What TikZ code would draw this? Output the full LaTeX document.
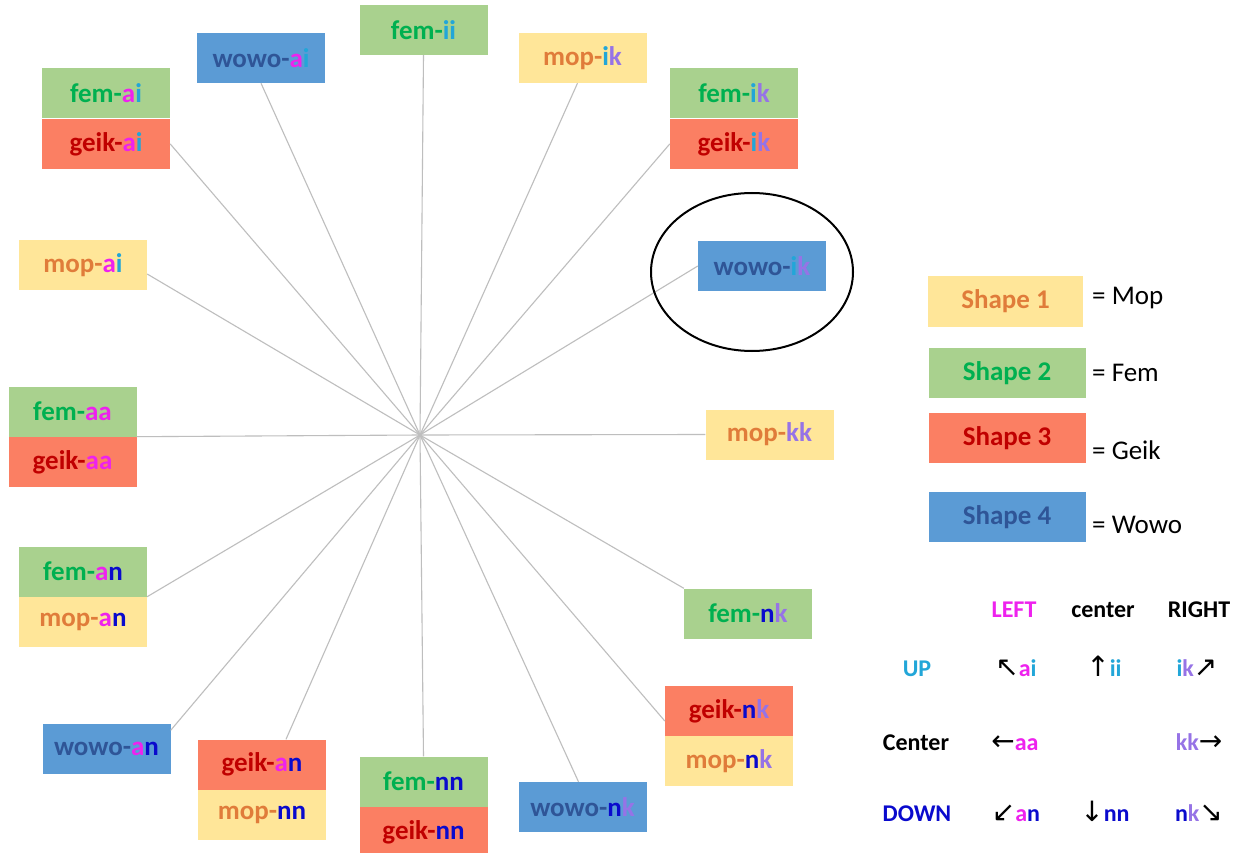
\documentclass[tikz,border=0pt]{standalone}
\usepackage{fontspec}
\setmainfont{Carlito}
\newfontfamily\arrowfont{DejaVu Sans}

% box fills and text colours
\definecolor{mopfill}{HTML}{FFE699}
\definecolor{moptext}{HTML}{E07C3A}
\definecolor{femfill}{HTML}{A9D18E}
\definecolor{femtext}{HTML}{00B050}
\definecolor{geikfill}{HTML}{FB7F63}
\definecolor{geiktext}{HTML}{C00000}
\definecolor{wowofill}{HTML}{5B9BD5}
\definecolor{wowotext}{HTML}{2F5597}
% direction letters
\definecolor{colA}{HTML}{EE22EE}
\definecolor{colI}{HTML}{22A6D8}
\definecolor{colK}{HTML}{9673E6}
\definecolor{colN}{HTML}{0A0ACD}
\definecolor{spokegray}{HTML}{BEBEBE}

\newcommand\ltA{\textcolor{colA}{a}}
\newcommand\ltI{\textcolor{colI}{i}}
\newcommand\ltK{\textcolor{colK}{k}}
\newcommand\ltN{\textcolor{colN}{n}}
\newcommand\arw[1]{{\arrowfont\mdseries\fontsize{28}{28}\selectfont #1}}

\tikzset{
  tag/.style={rectangle, inner sep=0pt, minimum width=128pt, minimum height=50pt,
              font=\bfseries\fontsize{27}{32}\selectfont},
  mop/.style={tag, fill=mopfill, text=moptext},
  fem/.style={tag, fill=femfill, text=femtext},
  geik/.style={tag, fill=geikfill, text=geiktext},
  wowo/.style={tag, fill=wowofill, text=wowotext},
  spoke/.style={draw=spokegray, line width=1.1pt},
  keytext/.style={anchor=west, inner sep=0pt, font=\fontsize{27}{32}\selectfont},
  cell/.style={inner sep=0pt, anchor=base, font=\bfseries\fontsize{24}{28}\selectfont},
}

\begin{document}
\begin{tikzpicture}[x=1pt, y=-1pt]
\useasboundingbox (0,0) rectangle (1243,853);
\fill[white] (0,0) rectangle (1243,853);

\coordinate (hub) at (420,435);

% labelled boxes round the hub
\node[fem]  (femii)  at (423.5,30)  {fem-\ltI\ltI};
\node[wowo] (wowoai) at (261,58)    {wowo-\ltA\ltI};
\node[fem]  (femai)  at (106,93.5)  {fem-\ltA\ltI};
\node[geik, anchor=north] (geikai) at (femai.south) {geik-\ltA\ltI};
\node[mop]  (mopik)  at (582.5,58)  {mop-\ltI\ltK};
\node[fem]  (femik)  at (734,93.5)  {fem-\ltI\ltK};
\node[geik, anchor=north] (geikik) at (femik.south) {geik-\ltI\ltK};
\node[wowo] (wowoik) at (762,266)   {wowo-\ltI\ltK};
\node[mop]  (mopai)  at (83,265)    {mop-\ltA\ltI};
\node[fem]  (femaa)  at (72.5,411.5) {fem-\ltA\ltA};
\node[geik, anchor=north] (geikaa) at (femaa.south) {geik-\ltA\ltA};
\node[mop]  (mopkk)  at (769.5,434.5) {mop-\ltK\ltK};
\node[fem]  (feman)  at (83,571.5)  {fem-\ltA\ltN};
\node[mop, anchor=north] (mopan) at (feman.south) {mop-\ltA\ltN};
\node[wowo] (wowoan) at (106.5,748.5) {wowo-\ltA\ltN};
\node[geik] (geikan) at (262,764.5) {geik-\ltA\ltN};
\node[mop, anchor=north] (mopnn) at (geikan.south) {mop-\ltN\ltN};
\node[fem]  (femnn)  at (423.5,781.5) {fem-\ltN\ltN};
\node[geik, anchor=north] (geiknn) at (femnn.south) {geik-\ltN\ltN};
\node[wowo] (wowonk) at (582.5,807) {wowo-\ltN\ltK};
\node[geik] (geiknk) at (729,711)   {geik-\ltN\ltK};
\node[mop, anchor=north] (mopnk) at (geiknk.south) {mop-\ltN\ltK};
\node[fem]  (femnk)  at (748,613.5) {fem-\ltN\ltK};

% spokes from the hub
\draw[spoke] (hub) -- (femii.south);
\draw[spoke] (hub) -- (wowoai.south);
\draw[spoke] (hub) -- (geikai.east);
\draw[spoke] (hub) -- ([xshift=-5pt]mopik.south);
\draw[spoke] (hub) -- (geikik.west);
\draw[spoke] (hub) -- (wowoik.west);
\draw[spoke] (hub) -- ([yshift=-9pt]mopai.east);
\draw[spoke] (hub) -- (femaa.south east);
\draw[spoke] (hub) -- (mopkk.west);
\draw[spoke] (hub) -- (feman.south east);
\draw[spoke] (hub) -- ([yshift=-7pt]wowoan.north east);
\draw[spoke] (hub) -- ([xshift=24pt]geikan.north);
\draw[spoke] (hub) -- (femnn.north);
\draw[spoke] (hub) -- ([xshift=-4pt]wowonk.north);
\draw[spoke] (hub) -- ([yshift=-10pt]geiknk.west);
\draw[spoke] (hub) -- (femnk.north west);

% highlight ring
\draw[black, line width=2pt] (752,272) ellipse [x radius=101, y radius=79];

% key
\node[mop,  minimum width=155pt] (key1) at (1005.5,301.5) {Shape 1};
\node[fem,  minimum width=157pt] (key2) at (1007,373)   {Shape 2};
\node[geik, minimum width=157pt] (key3) at (1007,438)   {Shape 3};
\node[wowo, minimum width=157pt] (key4) at (1007,517)   {Shape 4};
\node[keytext] (eq1) at (1092,298) {= Mop};
\node[keytext] (eq2) at (1092,373) {= Fem};
\node[keytext] (eq3) at (1092,450) {= Geik};
\node[keytext] (eq4) at (1092,525) {= Wowo};

% direction table (nodes sit on their baselines)
\node[cell, text=colA] (hLeft)   at (1014,617) {LEFT};
\node[cell]            (hCenter) at (1103,617) {center};
\node[cell]            (hRight)  at (1199,617) {RIGHT};
\node[cell, text=colI] (rUp)     at (917,676)  {UP};
\node[cell]            (rCenter) at (916,750)  {Center};
\node[cell, text=colN] (rDown)   at (917,821)  {DOWN};
\node[cell] (tAI) at (1016,676) {\arw{↖}\ltA\ltI};
\node[cell] (tII) at (1104,676) {\arw{↑}\ltI\ltI};
\node[cell] (tIK) at (1197,676) {\ltI\ltK\arw{↗}};
\node[cell] (tAA) at (1015,750) {\arw{←}\ltA\ltA};
\node[cell] (tKK) at (1199,750) {\ltK\ltK\arw{→}};
\node[cell] (tAN) at (1016,821) {\arw{↙}\ltA\ltN};
\node[cell] (tNN) at (1105,821) {\arw{↓}\ltN\ltN};
\node[cell] (tNK) at (1199,821) {\ltN\ltK\arw{↘}};
\end{tikzpicture}
\end{document}
